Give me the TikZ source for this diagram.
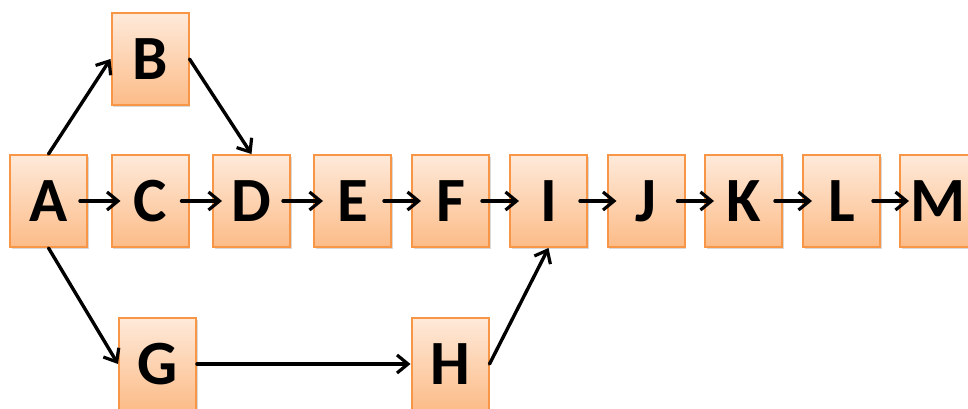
\documentclass[tikz,border=0pt]{standalone}
\usepackage{fontspec}
\setmainfont{Carlito}
\usetikzlibrary{arrows.meta,shadows}
\definecolor{boxtop}{RGB}{254,234,218}
\definecolor{boxbot}{RGB}{252,188,136}
\definecolor{boxline}{RGB}{247,150,70}
\tikzset{
  task/.style={draw=boxline, line width=2pt, top color=boxtop, bottom color=boxbot,
    minimum width=77pt, minimum height=92pt, inner sep=0pt,
    font=\fontsize{63}{63}\selectfont\bfseries, text=black,
    drop shadow={shadow xshift=1.5pt, shadow yshift=-2pt, opacity=0.25, fill=black!60}},
  link/.style={line width=3.4pt, -{Straight Barb[length=11pt,width=18pt,line width=3.2pt]}, line cap=round},
  hlink/.style={link, shorten <=-8pt, shorten >=-10pt}
}
\begin{document}
\begin{tikzpicture}[x=1pt,y=-1pt]
\useasboundingbox (0,0) rectangle (968,409);
\clip (0,0) rectangle (968,409);
\node[task] (A) at (48.5,201) {A};
\node[task] (B) at (150,59) {B};
\node[task] (C) at (150,201) {C};
\node[task] (D) at (251.5,201) {D};
\node[task] (E) at (352.5,201) {E};
\node[task] (F) at (450.5,201) {F};
\node[task] (I) at (548.5,201) {I};
\node[task] (J) at (646,201) {J};
\node[task] (K) at (743.5,201) {K};
\node[task] (L) at (841.5,201) {L};
\node[task] (M) at (938.5,201) {M};
\node[task] (G) at (157.5,364) {G};
\node[task] (H) at (450,364) {H};
\draw[hlink] (A.east) -- (C.west);
\draw[hlink] (C.east) -- (D.west);
\draw[hlink] (D.east) -- (E.west);
\draw[hlink] (E.east) -- (F.west);
\draw[hlink] (F.east) -- (I.west);
\draw[hlink] (I.east) -- (J.west);
\draw[hlink] (J.east) -- (K.west);
\draw[hlink] (K.east) -- (L.west);
\draw[hlink] (L.east) -- (M.west);
\draw[link] (A.north) -- (B.west);
\draw[link] (B.east) -- (D.north);
\draw[link] (A.south) -- (G.west);
\draw[link] (G.east) -- (H.west);
\draw[link] (H.east) -- (I.south);
\end{tikzpicture}
\end{document}
